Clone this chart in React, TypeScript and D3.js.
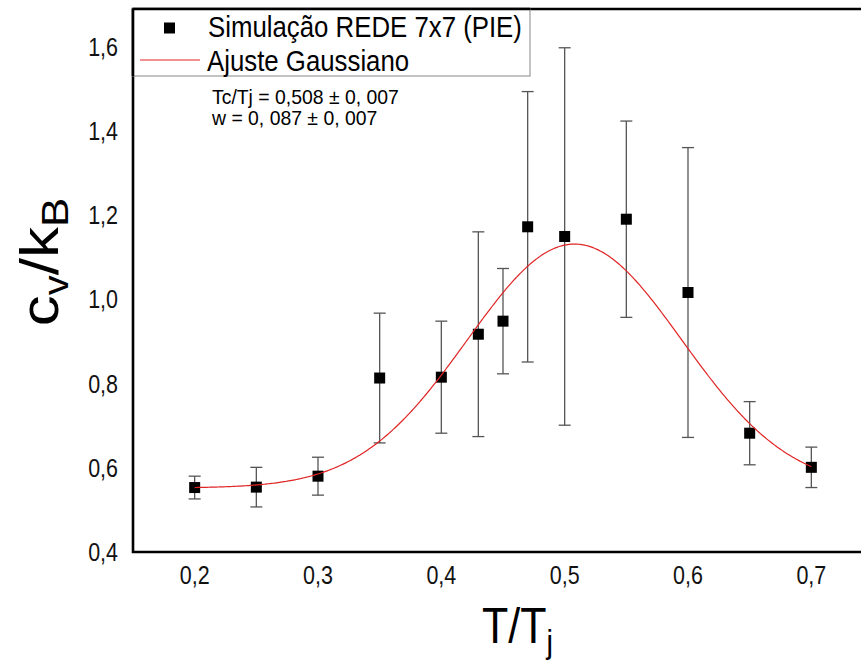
import React from "react";
import * as d3 from "d3";

const xValues = [0.2, 0.25, 0.3, 0.35, 0.4, 0.43, 0.45, 0.47, 0.5, 0.55, 0.6, 0.65, 0.7];
const cvValues = [0.553, 0.554, 0.58, 0.813, 0.815, 0.917, 0.948, 1.172, 1.149, 1.19, 1.016, 0.682, 0.601];
const errValues = [0.027, 0.047, 0.045, 0.154, 0.133, 0.243, 0.125, 0.321, 0.448, 0.233, 0.344, 0.075, 0.048];

// Gaussian fit parameters: y0, amplitude, centre, width
const fitY0 = 0.552;
const fitA = 0.579;
const fitXc = 0.508;
const fitW = 0.087;
const fitRange = [0.2, 0.7];

const xTicks = [0.2, 0.3, 0.4, 0.5, 0.6, 0.7];
const yTicks = [0.4, 0.6, 0.8, 1.0, 1.2, 1.4, 1.6];

const legendLabels = ["Simulação REDE 7x7 (PIE)", "Ajuste Gaussiano"];
const annotationLines = ["Tc/Tj = 0,508 ± 0, 007", "w = 0, 087 ± 0, 007"];

const W = 861;
const H = 668;
const SX = 0.86;
const FONT = "Arial, 'Liberation Sans', Helvetica, sans-serif";

export default function App() {
  const x = d3.scaleLinear().domain([0.15, 0.75]).range([133, 873]);
  const y = d3.scaleLinear().domain([0.4, 1.6]).range([552, 46.5]);
  const fmt = (v: number) => d3.format(".1f")(v).replace(".", ",");

  const gauss = (t: number) => fitY0 + fitA * Math.exp(-((t - fitXc) ** 2) / (2 * fitW * fitW));
  const curvePts = d3.range(0, 401).map((i) => {
    const t = fitRange[0] + ((fitRange[1] - fitRange[0]) * i) / 400;
    return [t, gauss(t)] as [number, number];
  });
  const line = d3
    .line<[number, number]>()
    .x((d) => x(d[0]))
    .y((d) => y(d[1]))
    .curve(d3.curveLinear);

  const frameTop = 9;
  const frameBottom = y(0.4);
  const frameLeft = 133;
  const cap = 6;
  const ms = 11;

  return (
    <div style={{ position: "fixed", left: 0, top: 0, width: W, height: H, background: "#fff" }}>
      <svg width={W} height={H} style={{ display: "block" }} fontFamily={FONT}>
        <rect x={0} y={0} width={W} height={H} fill="#fff" />
        {/* error bars */}
        <g stroke="#555" strokeWidth={1.3}>
          {xValues.map((xv, i) => {
            const cx = x(xv);
            const t = y(cvValues[i] + errValues[i]);
            const b = y(cvValues[i] - errValues[i]);
            return (
              <g key={i}>
                <line x1={cx} x2={cx} y1={t} y2={b} />
                <line x1={cx - cap} x2={cx + cap} y1={t} y2={t} />
                <line x1={cx - cap} x2={cx + cap} y1={b} y2={b} />
              </g>
            );
          })}
        </g>
        {/* markers */}
        <g fill="#000">
          {xValues.map((xv, i) => (
            <rect key={i} x={x(xv) - ms / 2} y={y(cvValues[i]) - ms / 2} width={ms} height={ms} />
          ))}
        </g>
        {/* fit curve */}
        <path d={line(curvePts) || ""} fill="none" stroke="#e02424" strokeWidth={1.2} />

        {/* frame */}
        <path
          d={`M${W + 20},${frameTop} H${frameLeft} V${frameBottom} H${W + 20}`}
          fill="none"
          stroke="#000"
          strokeWidth={2.6}
        />

        {/* legend */}
        <rect x={frameLeft} y={frameTop} width={530 - frameLeft} height={76 - frameTop} fill="#fff" stroke="#888" strokeWidth={1} />
        <line x1={frameLeft} x2={530} y1={frameTop} y2={frameTop} stroke="#000" strokeWidth={2.6} />
        <line x1={frameLeft} x2={frameLeft} y1={frameTop} y2={76} stroke="#000" strokeWidth={2.6} />
        <rect x={169.5 - 5.5} y={28 - 5.5} width={11} height={11} fill="#000" />
        <line x1={140} x2={200} y1={60} y2={60} stroke="#e02424" strokeWidth={1.2} />
        <text transform={`translate(208,37) scale(${SX},1)`} fontSize={30} fill="#000">
          {legendLabels[0]}
        </text>
        <text transform={`translate(207,71) scale(${SX},1)`} fontSize={30} fill="#000">
          {legendLabels[1]}
        </text>

        {/* annotation */}
        {annotationLines.map((s, i) => (
          <text key={i} transform={`translate(212,${104 + i * 21}) scale(0.97,1)`} fontSize={20} fill="#000">
            {s}
          </text>
        ))}

        {/* x tick labels */}
        {xTicks.map((t) => (
          <text
            key={t}
            transform={`translate(${x(t)},584) scale(${SX},1)`}
            fontSize={25}
            textAnchor="middle"
            fill="#111"
          >
            {fmt(t)}
          </text>
        ))}
        {/* y tick labels */}
        {yTicks.map((t) => (
          <text
            key={t}
            transform={`translate(118,${y(t) + 9}) scale(${SX},1)`}
            fontSize={25}
            textAnchor="end"
            fill="#111"
          >
            {fmt(t)}
          </text>
        ))}

        {/* x title */}
        <text transform={`translate(482,643) scale(${SX},1)`} fontSize={50} fill="#000">
          T/T
          <tspan fontSize={34} dy={10}>
            j
          </tspan>
        </text>

        {/* y title */}
        <text
          transform={`translate(58,262) rotate(-90) scale(1,${SX})`}
          fontSize={62}
          textAnchor="middle"
          fill="#000"
        >
          c
          <tspan fontSize={40} dy={12}>
            v
          </tspan>
          <tspan dy={-12}>/k</tspan>
          <tspan fontSize={44} dy={12}>
            B
          </tspan>
        </text>
      </svg>
    </div>
  );
}
